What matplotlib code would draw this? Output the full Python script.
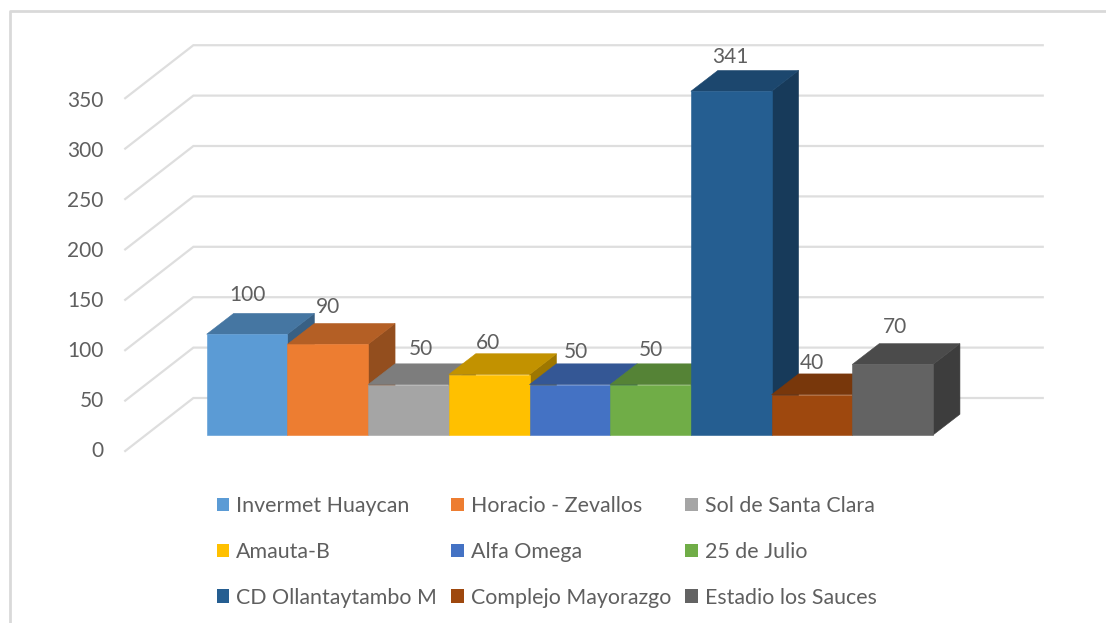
import matplotlib
matplotlib.use("Agg")
import matplotlib.pyplot as plt
from matplotlib.patches import Polygon, Patch, Rectangle

categories = ["Invermet Huaycan", "Horacio - Zevallos", "Sol de Santa Clara",
              "Amauta-B", "Alfa Omega", "25 de Julio",
              "CD Ollantaytambo M", "Complejo Mayorazgo", "Estadio los Sauces"]
values = [100, 90, 50, 60, 50, 50, 341, 40, 70]
colors = ["#5B9BD5", "#ED7D31", "#A5A5A5", "#FFC000", "#4472C4", "#70AD47",
          "#255E91", "#9E480E", "#636363"]
yticks = [0, 50, 100, 150, 200, 250, 300, 350]

W, H = 1106, 623
PX_X, PX_Y = 80.7, 1.008      # pixels per category / per value
X0, Y0 = 206.7, 435           # pixel position of the chart origin

plt.rcParams["font.family"] = ["Lato", "DejaVu Sans"]
fig = plt.figure(figsize=(W / 100, H / 100), dpi=100, facecolor="white")
ax = fig.add_axes([0, 0, 1, 1])
ax.set_xlim(-X0 / PX_X, (W - X0) / PX_X)
ax.set_ylim(-(H - Y0) / PX_Y, Y0 / PX_Y)
ax.axis("off")

TXT = "#5F5F5F"
GRID = "#DEDEDE"
FS = 15

# walls / gridlines
left_front, left_back, right_back = -1.01, -0.165, 10.36
floor_front, floor_back = -15.9, 36.7
for t in yticks:
    ax.plot([left_front, left_back, right_back],
            [t + floor_front, t + floor_back, t + floor_back],
            color=GRID, lw=1.6, solid_joinstyle="miter", zorder=1)
    ax.text(-1.277, t + floor_front - t * 0.008, str(t), ha="right", va="center",
            fontsize=FS, color=TXT, zorder=5)


def shade(hex_color, k):
    r, g, b = matplotlib.colors.to_rgb(hex_color)
    return (r * k, g * k, b * k)


# 3D bars
DX, DY = 0.334, 20.6
for i, (v, c) in enumerate(zip(values, colors)):
    z = 2 + i * 0.1
    side, top = shade(c, 0.62), shade(c, 0.76)
    ax.add_patch(Polygon([(i + 1, 0), (i + 1 + DX, DY), (i + 1 + DX, v + DY), (i + 1, v)],
                         closed=True, fc=side, ec=side, lw=0.4, zorder=z))
    ax.add_patch(Polygon([(i, v), (i + DX, v + DY), (i + 1 + DX, v + DY), (i + 1, v)],
                         closed=True, fc=top, ec=top, lw=0.4, zorder=z))
    ax.add_patch(Rectangle((i, 0), 1, v, fc=c, ec=c, lw=0.4, zorder=z))

# value labels
nudge_x = [0.0, 0.0, 0.16, -0.01, 0.07, 0.0, -0.01, 0.0, 0.03]
nudge_y = [39, 37, 35, 31, 32, 34, 34, 31, 37]
for i, v in enumerate(values):
    ax.text(i + 0.5 + nudge_x[i], v + nudge_y[i], str(v), ha="center", va="center",
            fontsize=FS, color=TXT, zorder=6)

# legend (filled column by column, so the order is rearranged for reading in rows)
handles = [Patch(fc=c, ec="none") for c in colors]
order = [0, 3, 6, 1, 4, 7, 2, 5, 8]
leg = fig.legend([handles[k] for k in order], [categories[k] for k in order],
                 ncols=3, loc="lower left", bbox_to_anchor=(216.5 / W, 1 - 607.5 / H),
                 frameon=False, fontsize=15.4, labelcolor=TXT,
                 handlelength=0.6, handleheight=0.6, handletextpad=0.33,
                 columnspacing=0.65, labelspacing=1.2, borderpad=0, borderaxespad=0)

# picture frame
fig.add_artist(plt.Line2D([9.5 / W, 9.5 / W, 1], [0, 1 - 10.5 / H, 1 - 10.5 / H],
                          color="#D9D9D9", lw=2))

fig.savefig("out.png", dpi=100)
